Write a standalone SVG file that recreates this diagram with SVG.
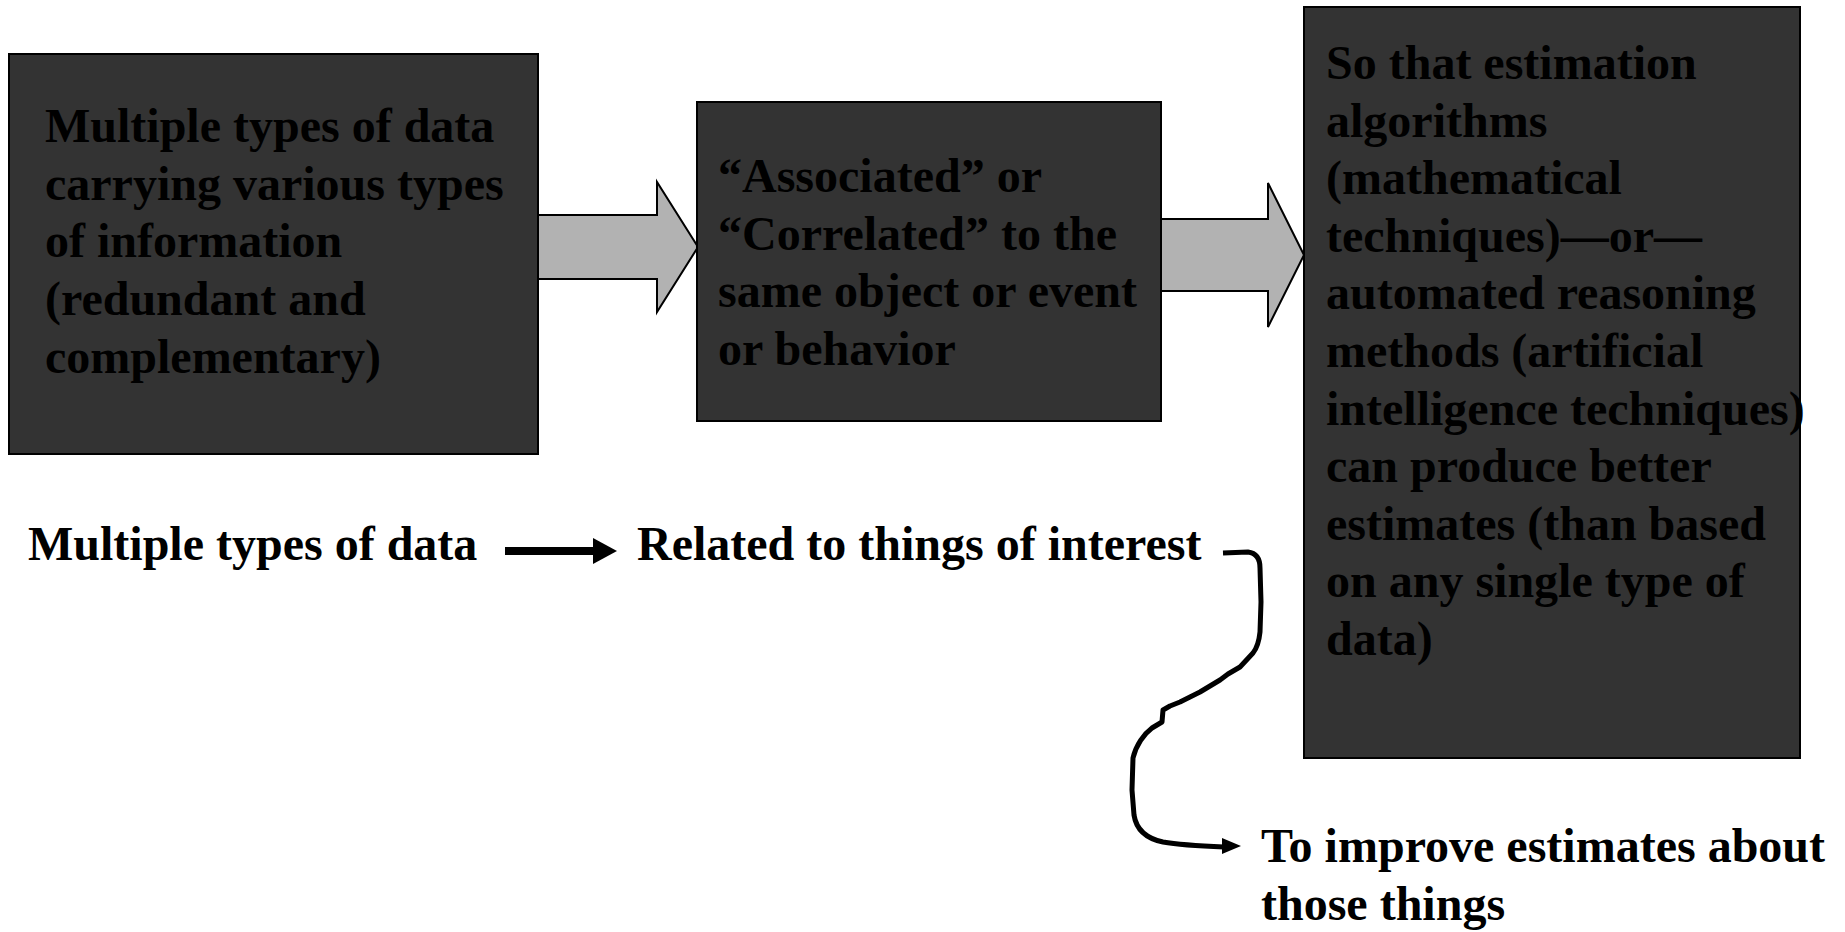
<svg xmlns="http://www.w3.org/2000/svg" width="1845" height="932" viewBox="0 0 1845 932">
  <style>
    .box { fill: #333333; stroke: #000000; stroke-width: 2; }
    .block { fill: #b2b2b2; stroke: #000000; stroke-width: 2; stroke-linejoin: miter; }
    .t { font-family: "Liberation Serif", "Times New Roman", serif; font-weight: bold; font-size: 48px; fill: #000000; }
    .conn { fill: none; stroke: #000000; stroke-linejoin: round; }
    .tip { fill: #000000; }
  </style>
  <rect width="1845" height="932" fill="#ffffff"/>

  <!-- block arrows between the boxes, plus the two black arrows under them -->
  <g id="connectors">
    <polygon class="block" points="538,215 657,215 657,182 698,247 657,312 657,279 538,279"/>
    <polygon class="block" points="1161,219 1268,219 1268,183 1304,255 1268,327 1268,291 1161,291"/>

    <line class="conn" x1="505" y1="551" x2="595" y2="551" stroke-width="8"/>
    <polygon class="tip" points="593,538 617,551 593,564"/>

    <path class="conn" stroke-width="5" stroke-linecap="butt"
          d="M1223,553 L1248,552 C1256,553 1260,558 1260,568 L1261,602 L1260,632 C1259,642 1257,648 1253,653
             L1240,667 L1228,674 L1220,680 L1210,686 L1200,692 L1190,697 L1180,702 L1170,706 L1163,710
             L1162,722 L1152,728 C1144,734 1136,745 1133,758 L1132,790 L1134,815
             C1136,828 1144,838 1163,842 C1180,845 1200,846 1224,847"/>
    <polygon class="tip" points="1222,838 1241,846 1222,854"/>
  </g>

  <g id="node-data">
    <rect class="box" x="9" y="54" width="529" height="400"/>
    <text class="t" x="45" y="142">Multiple types of data</text>
    <text class="t" x="45" y="200">carrying various types</text>
    <text class="t" x="45" y="257">of information</text>
    <text class="t" x="45" y="315">(redundant and</text>
    <text class="t" x="45" y="373">complementary)</text>
  </g>

  <g id="node-associated">
    <rect class="box" x="697" y="102" width="464" height="319"/>
    <text class="t" x="718" y="192">“Associated” or</text>
    <text class="t" x="718" y="250">“Correlated” to the</text>
    <text class="t" x="718" y="307">same object or event</text>
    <text class="t" x="718" y="365">or behavior</text>
  </g>

  <g id="node-estimation">
    <rect class="box" x="1304" y="7" width="496" height="751"/>
    <text class="t" x="1326" y="79">So that estimation</text>
    <text class="t" x="1326" y="137">algorithms</text>
    <text class="t" x="1326" y="194">(mathematical</text>
    <text class="t" x="1326" y="252">techniques)—or—</text>
    <text class="t" x="1326" y="309">automated reasoning</text>
    <text class="t" x="1326" y="367">methods (artificial</text>
    <text class="t" x="1326" y="425">intelligence techniques)</text>
    <text class="t" x="1326" y="482">can produce better</text>
    <text class="t" x="1326" y="540">estimates (than based</text>
    <text class="t" x="1326" y="597">on any single type of</text>
    <text class="t" x="1326" y="655">data)</text>
  </g>

  <g id="label-data">
    <text class="t" x="28" y="560">Multiple types of data</text>
  </g>
  <g id="label-related">
    <text class="t" x="637" y="560">Related to things of interest</text>
  </g>
  <g id="label-improve">
    <text class="t" x="1261" y="862">To improve estimates about</text>
    <text class="t" x="1261" y="920">those things</text>
  </g>
</svg>
